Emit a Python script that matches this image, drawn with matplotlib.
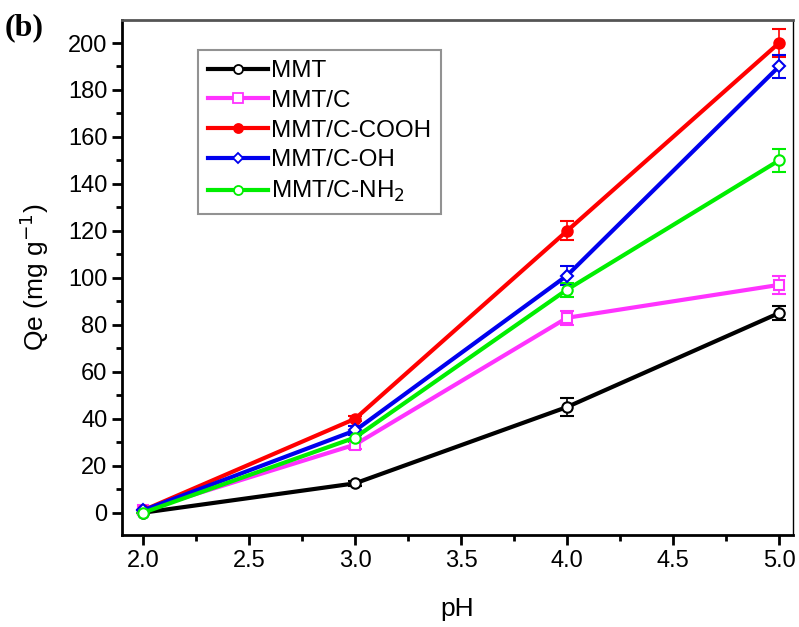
import matplotlib.pyplot as plt
from matplotlib.lines import Line2D

# data
ph = [2.0, 3.0, 4.0, 5.0]
labels = ['MMT', 'MMT/C', 'MMT/C-COOH', 'MMT/C-OH', 'MMT/C-NH$_2$']
qe_mmt = [0, 12.5, 45, 85]
qe_mmt_c = [1, 29, 83, 97]
qe_cooh = [1, 40, 120, 200]
qe_oh = [1, 35, 101, 190]
qe_nh2 = [0, 32, 95, 150]
err_mmt = [0, 1, 4, 3]
err_mmt_c = [0, 2, 3, 4]
err_cooh = [0, 1, 4, 6]
err_oh = [0, 2, 4, 5]
err_nh2 = [0, 2, 3, 5]

series = [qe_mmt, qe_mmt_c, qe_cooh, qe_oh, qe_nh2]
errors = [err_mmt, err_mmt_c, err_cooh, err_oh, err_nh2]
colors = ['black', '#ff33ff', '#ff0000', '#0000ee', '#00ee00']
markers = ['o', 's', 'o', 'D', 'o']
faces = ['white', 'white', '#ff0000', 'white', 'white']

plt.rcParams['font.family'] = 'Liberation Sans'

fig = plt.figure(figsize=(7.99, 6.27), dpi=100)
ax = fig.add_axes([122 / 799, 1 - 535 / 627, (793 - 122) / 799, (535 - 20) / 627])

handles = []
for y, e, c, m, f, lab in zip(series, errors, colors, markers, faces, labels):
    ms = 6.5 if m == 'D' else 7.5
    ax.errorbar(ph, y, yerr=e, color=c, lw=3, marker=m, ms=ms,
                mfc=f, mec=c, mew=1.5, capsize=5, elinewidth=1.2, capthick=1.2)
    handles.append(Line2D([], [], color=c, lw=3, marker=m, ms=ms - 1,
                          mfc=f, mec=c, mew=1.3, label=lab))

ax.set_xlim(1.9, 5.066)
ax.set_ylim(-9.5, 209.8)
ax.set_xticks([2.0, 2.5, 3.0, 3.5, 4.0, 4.5, 5.0])
ax.set_xticks([2.25, 2.75, 3.25, 3.75, 4.25, 4.75], minor=True)
ax.set_yticks(range(0, 201, 20))
ax.set_yticks(range(10, 201, 20), minor=True)
ax.xaxis.set_major_formatter(plt.FuncFormatter(lambda v, p: f'{v:.1f}'))
ax.tick_params(axis='both', which='major', direction='out', length=7, width=2, labelsize=17)
ax.tick_params(axis='both', which='minor', direction='out', length=4, width=2)
for s in ax.spines.values():
    s.set_linewidth(2)
ax.spines['right'].set_linewidth(1)
ax.spines['top'].set_color('#555555')

ax.set_xlabel('pH', fontsize=19, labelpad=18)
ax.set_ylabel('Qe (mg g$^{-1}$)', fontsize=19, labelpad=12)

leg = ax.legend(handles=handles, loc='upper left', bbox_to_anchor=(0.113, 0.941),
                fontsize=17.5, frameon=True, fancybox=False, edgecolor='#777777',
                handlelength=2.5, handletextpad=0.1, labelspacing=0.32,
                borderaxespad=0.0, borderpad=0.4)
leg.get_frame().set_linewidth(1.5)

fig.text(5 / 799, 1 - 28 / 627, '(b)', fontsize=23, fontweight='bold',
         family='Liberation Serif', va='center')

fig.savefig('out.png', dpi=100)
